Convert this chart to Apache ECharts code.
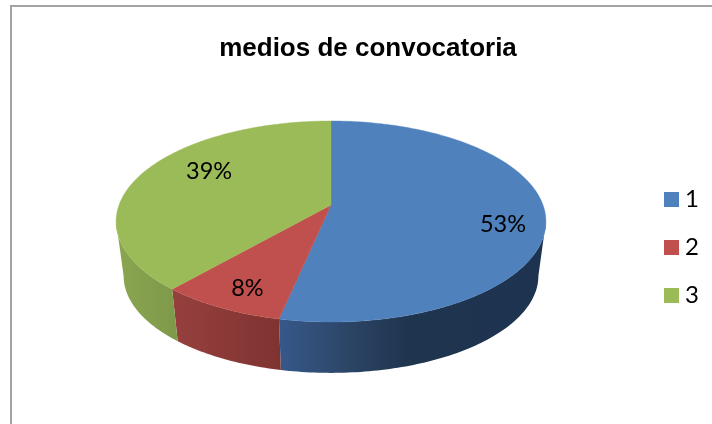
<!DOCTYPE html>
<html><head><meta charset="utf-8">
<style>html,body{margin:0;padding:0;background:#fff}#c{width:712px;height:424px}</style>
<script src="https://cdn.jsdelivr.net/npm/echarts@6/dist/echarts.min.js"></script>
</head><body><div id="c"></div>
<script>
const titleText = 'medios de convocatoria';
const categories = ['1', '2', '3'];
const values = [53.3, 8.1, 38.6];
const topColors = ['#4f81bd', '#c0504d', '#9bbb59'];
const wallStops = [
  [[0.38, '#36588a'], [0.55, '#2b4464'], [0.68, '#1f344e'], [1, '#1e3350']],
  [[0, '#a24745'], [0.38, '#7f3331'], [1, '#7f3331']],
  [[0, '#8aa650'], [0.13, '#7f9a4a'], [1, '#7f9a4a']]
];
const labelShift = [[1, 11], [2, 4], [30, -7]];

const total = values.reduce((a, b) => a + b, 0);
const CX = 331, CY = 205, A = 212, B = 97.8, K = 0.164, DEPTH = 55, SHRINK = 0.965;
const TIP = Math.acos(-K);
function project(t, f, level) {
  const u = Math.sin(t) * f, v = Math.cos(t) * f, d = 1 + K * v;
  const s = level ? SHRINK : 1;
  return [CX + s * A * u / d, CY + (level ? DEPTH : 0) - s * B * v / d];
}
function arc(a0, a1, level) {
  const n = Math.max(2, Math.ceil((a1 - a0) / (Math.PI / 180)));
  const pts = [];
  for (let i = 0; i <= n; i++) pts.push(project(a0 + (a1 - a0) * i / n, 1, level));
  return pts;
}
function render(idx) {
  return function (params, api) {
    let before = 0;
    for (let i = 0; i < idx; i++) before += values[i];
    const a0 = before / total * 2 * Math.PI;
    const a1 = (before + api.value(0)) / total * 2 * Math.PI;
    const topArc = arc(a0, a1, 0);
    const w0 = Math.max(a0, TIP), w1 = Math.min(a1, 2 * Math.PI - TIP);
    const wall = arc(w0, w1, 0).concat(arc(w0, w1, 1).reverse());
    const mid = project((a0 + a1) / 2, 0.8, 0);
    return {
      type: 'group',
      children: [
        { type: 'polygon', z2: 1, shape: { points: wall },
          style: { fill: new echarts.graphic.LinearGradient(116, 0, 546, 0,
            wallStops[idx].map(s => ({ offset: s[0], color: s[1] })), true) } },
        { type: 'polygon', z2: 10, shape: { points: [[CX, CY]].concat(topArc) },
          style: { fill: topColors[idx], stroke: topColors[idx], lineWidth: 0.4 } },
        { type: 'text', z2: 20, x: mid[0] + labelShift[idx][0], y: mid[1] + labelShift[idx][1],
          style: { text: Math.round(api.value(0) / total * 100) + '%', fill: '#000',
            font: '23.5px Lato', textAlign: 'center', textVerticalAlign: 'middle' } }
      ]
    };
  };
}
const chart = echarts.init(document.getElementById('c'), null, { renderer: 'canvas' });
chart.setOption({
  animation: false,
  backgroundColor: '#fff',
  color: topColors,
  title: { text: titleText, left: 363, top: 31, textAlign: 'center',
    textStyle: { fontFamily: 'Liberation Sans', fontWeight: 'bold', fontSize: 26, color: '#000' } },
  legend: { orient: 'vertical', left: 659, top: 182, itemWidth: 15, itemHeight: 15, itemGap: 23,
    icon: 'rect', data: categories,
    textStyle: { fontFamily: 'Lato', fontSize: 24, lineHeight: 25, color: '#000', padding: [0, 0, 0, 1] } },
  graphic: [{ type: 'rect', silent: true, shape: { x: 11, y: 6, width: 900, height: 700 },
    style: { fill: 'none', stroke: '#a3a3a3', lineWidth: 2 } }],
  series: categories.map((name, i) => ({
    type: 'custom', name, coordinateSystem: 'none', itemStyle: { color: topColors[i] },
    renderItem: render(i), data: [values[i]], silent: true
  }))
});
</script></body></html>
